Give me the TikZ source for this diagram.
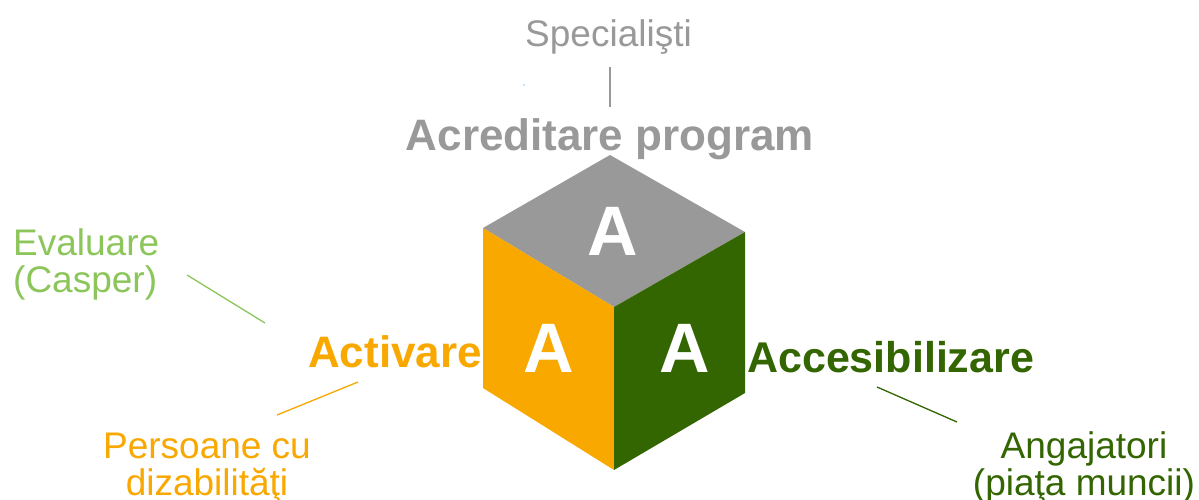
\documentclass[tikz,border=0pt]{standalone}
\usepackage{fontspec}
\setmainfont{Liberation Sans}
\definecolor{cgray}{RGB}{153,153,153}
\definecolor{corange}{RGB}{249,168,0}
\definecolor{cdgreen}{RGB}{51,102,0}
\definecolor{clgreen}{RGB}{140,198,90}
\definecolor{cdot}{RGB}{150,200,240}
\begin{document}
\begin{tikzpicture}[x=1pt,y=-1pt,
  lbl/.style={inner sep=0pt, font=\fontsize{37}{37}\selectfont},
  big/.style={inner sep=0pt, font=\fontsize{44}{44}\selectfont\bfseries},
  letter/.style={inner sep=0pt, text=white, anchor=base, font=\fontsize{70}{70}\selectfont\bfseries},
  link/.style={line width=1.3pt}]
\useasboundingbox[fill=white] (0,0) rectangle (1199,500);
% cube
\coordinate (T) at (610,155);
\coordinate (L) at (483,228);
\coordinate (C) at (614,307);
\coordinate (R) at (745,232);
\coordinate (LB) at (483,388);
\coordinate (RB) at (745,393);
\coordinate (B) at (614,470);
\fill[cgray] (T) -- (L) -- (C) -- (R) -- cycle;
\fill[corange] (L) -- (C) -- (B) -- (LB) -- cycle;
\fill[cdgreen] (C) -- (R) -- (RB) -- (B) -- cycle;
\node[letter] (atop) at (613,255) {A};
\node[letter] (aleft) at (549,372) {A};
\node[letter] (aright) at (685,372) {A};
% labels
\node[lbl, text=cgray, anchor=base] (spec) at (608.5,47) {Specialişti};
\node[big, text=cgray, anchor=base] (acred) at (610,150) {Acreditare program};
\node[big, text=corange, anchor=base west] (activ) at (308,367) {Activare};
\node[big, text=cdgreen, anchor=base west, font=\fontsize{43}{43}\selectfont\bfseries] (acces) at (747,372) {Accesibilizare};
\node[lbl, text=clgreen, anchor=base west, align=left] (eval) at (13,292) {Evaluare\\(Casper)};
\node[lbl, text=corange, anchor=base, align=center] (pers) at (207,495) {Persoane cu\\dizabilităţi};
\node[lbl, text=cdgreen, anchor=base, align=center] (angaj) at (1084,495) {Angajatori\\(piaţa muncii)};
% connector ends
\coordinate (s1) at (610,67);
\coordinate (s2) at (610,107);
\coordinate (e1) at (187,275);
\coordinate (e2) at (265,323);
\coordinate (p1) at (358,382);
\coordinate (p2) at (277,415);
\coordinate (g1) at (877,387);
\coordinate (g2) at (957,422);
\draw[link, cgray] (s1) -- (s2);
\draw[link, clgreen] (e1) -- (e2);
\draw[link, corange] (p1) -- (p2);
\draw[link, cdgreen] (g1) -- (g2);
\fill[cdot] (524,85) circle (0.9);
\end{tikzpicture}
\end{document}
